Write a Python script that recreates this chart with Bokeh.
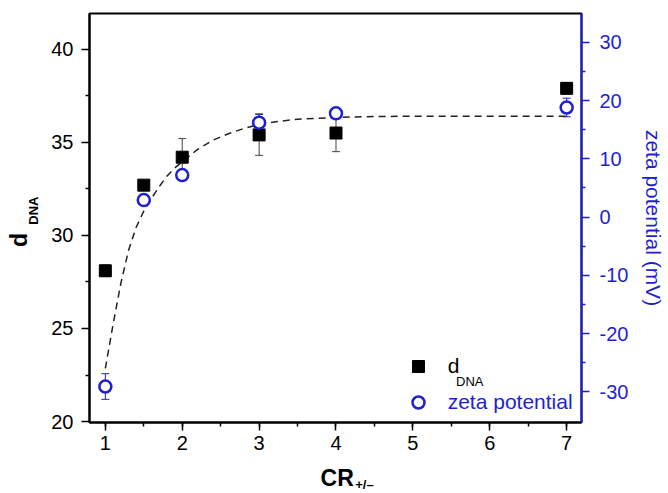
from math import pi
from bokeh.plotting import figure
from bokeh.models import (Range1d, LinearAxis, FixedTicker, Whisker, ColumnDataSource,
                          Label, TeeHead, Legend, LegendItem, PrintfTickFormatter)
from bokeh.embed import file_html
from bokeh.resources import INLINE

# ---- data ----
cr = [1, 1.5, 2, 3, 4, 7]
d_dna = [28.1, 32.7, 34.2, 35.4, 35.5, 37.9]
d_err = [0.3, 0.2, 1.0, 1.1, 1.0, 0.3]
zeta = [-29.1, 2.9, 7.2, 16.2, 17.8, 18.8]
zeta_err = [2.2, 0.5, 0.5, 1.5, 0.8, 1.6]

fit_x = [1.0, 1.1, 1.2, 1.3, 1.4, 1.5, 1.6, 1.7, 1.8, 1.9, 2.0, 2.2, 2.4, 2.6, 2.8,
         3.0, 3.25, 3.5, 4.0, 4.5, 5.0, 6.0, 7.0]
fit_zeta = [-26.0, -18.5, -11.5, -5.8, -1.8, 1.0, 3.2, 5.2, 7.0, 8.4, 9.5, 11.6, 13.2,
            14.3, 15.2, 15.9, 16.4, 16.8, 17.1, 17.25, 17.3, 17.3, 17.3]

x_ticks = [1, 2, 3, 4, 5, 6, 7]
x_minor = [0.5 * i for i in range(2, 15)]
d_ticks = [20, 25, 30, 35, 40]
d_minor = [22.5, 27.5, 32.5, 37.5]
zeta_ticks = [-30, -20, -10, 0, 10, 20, 30]
zeta_minor = [-25, -15, -5, 5, 15, 25]

BLUE = "#1f1fd2"
FONT = "Liberation Sans"

p = figure(width=668, height=493, output_backend="svg", toolbar_location=None,
           x_range=Range1d(0.794, 7.193), y_range=Range1d(19.95, 41.92),
           min_border_left=89, min_border_right=81, min_border_top=13, min_border_bottom=68)
p.extra_y_ranges = {"zeta": Range1d(-35.28, 34.94)}
p.xgrid.visible = False
p.ygrid.visible = False
p.outline_line_color = "black"
p.outline_line_width = 2
p.background_fill_color = "white"
p.border_fill_color = "white"

def style_axis(ax, color, ticks, minor, standoff):
    ax.ticker = FixedTicker(ticks=ticks, minor_ticks=minor)
    ax.formatter = PrintfTickFormatter(format="%d")
    ax.axis_line_color = color
    ax.axis_line_width = 2
    ax.major_tick_line_color = color
    ax.minor_tick_line_color = color
    ax.major_tick_line_width = 1.5
    ax.minor_tick_line_width = 1.5
    ax.major_tick_in = 0
    ax.major_tick_out = 8
    ax.minor_tick_in = 0
    ax.minor_tick_out = 4
    ax.major_label_text_font = FONT
    ax.major_label_text_font_size = "20px"
    ax.major_label_text_color = color
    ax.major_label_standoff = standoff

xa = p.xaxis[0]
style_axis(xa, "black", x_ticks, x_minor, 5)
ya = p.yaxis[0]
style_axis(ya, "black", d_ticks, d_minor, 8)

ra = LinearAxis(y_range_name="zeta")
style_axis(ra, BLUE, zeta_ticks, zeta_minor, 10)
ra.axis_label = "zeta potential (mV)"
ra.axis_label_text_font = FONT
ra.axis_label_text_font_size = "21px"
ra.axis_label_text_font_style = "normal"
ra.axis_label_text_color = BLUE
ra.axis_label_standoff = 11
p.add_layout(ra, "right")

# fitted dashed curve
p.line(fit_x, fit_zeta, y_range_name="zeta", line_dash="7 5", line_color="#222222",
       line_width=1.5)

# error bars
src_d = ColumnDataSource(dict(x=cr, up=[v + e for v, e in zip(d_dna, d_err)],
                              lo=[v - e for v, e in zip(d_dna, d_err)]))
src_z = ColumnDataSource(dict(x=cr, up=[v + e for v, e in zip(zeta, zeta_err)],
                              lo=[v - e for v, e in zip(zeta, zeta_err)]))
wd = Whisker(base="x", upper="up", lower="lo", source=src_d, line_color="#444444",
             line_width=1, level="underlay",
             upper_head=TeeHead(size=8, line_color="#444444", line_width=1),
             lower_head=TeeHead(size=8, line_color="#444444", line_width=1))
wz = Whisker(base="x", upper="up", lower="lo", source=src_z, y_range_name="zeta",
             line_color=BLUE, line_width=1, level="underlay",
             upper_head=TeeHead(size=8, line_color=BLUE, line_width=1),
             lower_head=TeeHead(size=8, line_color=BLUE, line_width=1))
p.add_layout(wd)
p.add_layout(wz)

r_sq = p.scatter(cr, d_dna, marker="square", size=12, fill_color="black", line_color="black")
r_ci = p.scatter(cr, zeta, marker="circle", size=12, fill_color="white", line_color=BLUE,
                 line_width=2.5, y_range_name="zeta")

# legends (two, so each label has its own colour)
def make_legend(label, rend, color, loc):
    lg = Legend(items=[LegendItem(label=label, renderers=[rend])], location=loc,
                glyph_width=30, glyph_height=30, label_height=30, label_standoff=15,
                padding=0, margin=0, spacing=0, border_line_color=None,
                background_fill_alpha=0, label_text_font=FONT,
                label_text_font_size="21px", label_text_color=color)
    p.add_layout(lg)

make_legend("d", r_sq, "black", (313.7, 41.3))
make_legend("zeta potential", r_ci, BLUE, (313.7, 5.3))
p.add_layout(Label(x=5.561, y=22.13, text="DNA", text_font=FONT, text_font_size="13px",
                   text_color="black", text_baseline="alphabetic"))

# axis titles with subscripts (placed in the side panels so they are not clipped)
p.add_layout(Label(x=-0.124, y=29.76, text="d", angle=pi / 2, text_font=FONT,
                   text_font_size="23px", text_font_style="bold", text_align="center",
                   text_baseline="middle", text_color="black"), "left")
p.add_layout(Label(x=0.062, y=31.33, text="DNA", angle=pi / 2, text_font=FONT,
                   text_font_size="13px", text_font_style="bold", text_align="center",
                   text_baseline="middle", text_color="black"), "left")
p.add_layout(Label(x=3.80, y=16.96, text="CR", text_font=FONT, text_font_size="23px",
                   text_font_style="bold", text_align="left", text_baseline="alphabetic",
                   text_color="black"), "below")
p.add_layout(Label(x=4.25, y=16.60, text="+/–", text_font=FONT, text_font_size="13px",
                   text_font_style="bold", text_align="left", text_baseline="alphabetic",
                   text_color="black"), "below")

open("out.html", "w").write(file_html(p, INLINE))
